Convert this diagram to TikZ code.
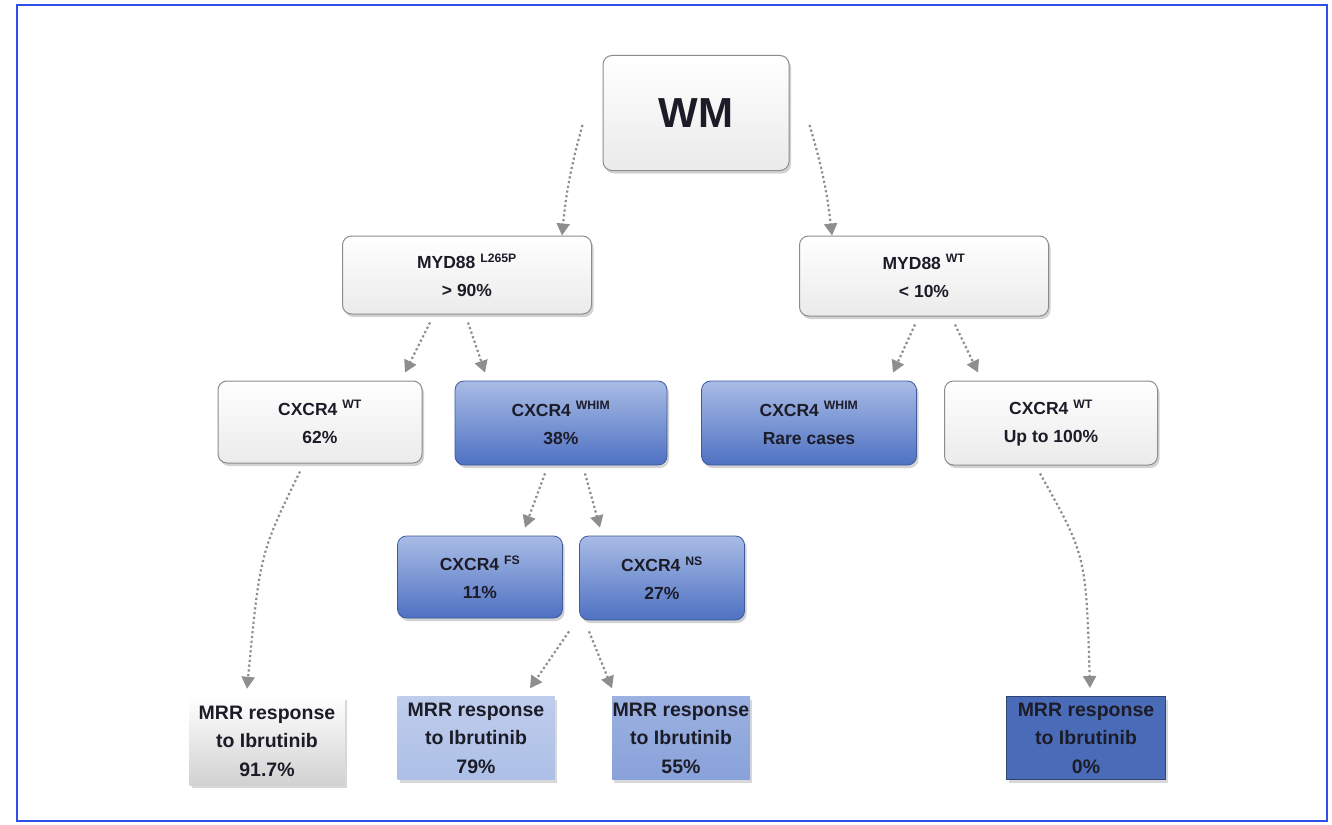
\documentclass[tikz,border=0pt]{standalone}
\usepackage{fontspec}
\setmainfont{Liberation Sans}
\usetikzlibrary{shadows,arrows.meta,calc}
\definecolor{frameblue}{HTML}{2F4FE8}
\definecolor{bluetop}{HTML}{A9BCE6}
\definecolor{bluebot}{HTML}{4E71C2}
\definecolor{txt}{HTML}{1C1C28}
\definecolor{arr}{HTML}{8E8E8E}
\tikzset{
  base/.style={rounded corners=9pt, align=center, text=txt, font=\fontsize{17.5}{28}\selectfont\bfseries,
    drop shadow={shadow xshift=2pt, shadow yshift=-3pt, fill=black!35, opacity=.5}},
  whitebox/.style={base, draw=black!45, line width=1pt, top color=white, bottom color=black!8},
  bluebox/.style={base, draw=bluebot!80!black, line width=0.8pt, top color=bluetop, bottom color=bluebot},
  mrr/.style={align=center, text=txt, font=\fontsize{19.5}{28.5}\selectfont\bfseries, inner sep=0pt,
    drop shadow={shadow xshift=2pt, shadow yshift=-3pt, fill=black!30, opacity=.5}},
  conn/.style={draw=arr, line width=2.2pt, dash pattern=on 2.2pt off 2.6pt, -{Triangle[length=12pt,width=13pt]}, shorten >=0pt}
}
\begin{document}
\begin{tikzpicture}[x=1pt,y=-1pt]
\useasboundingbox (0,0) rectangle (1332,824);
\fill[white] (0,0) rectangle (1332,824);
\draw[frameblue, line width=1.2pt] (17,5) rectangle (1327,821);

% top
\node[whitebox, minimum width=186pt, minimum height=115pt, font=\fontsize{42}{48}\selectfont\bfseries] (wm) at (696,113) {WM};

% level 1
\node[whitebox, minimum width=249pt, minimum height=78pt] (myl) at (467,275) {MYD88 \textsuperscript{L265P}\\ > 90\%};
\node[whitebox, minimum width=249pt, minimum height=80pt] (myr) at (924,276) {MYD88 \textsuperscript{WT}\\ < 10\%};

% level 2
\node[whitebox, minimum width=204pt, minimum height=82pt] (cwt) at (320,422) {CXCR4 \textsuperscript{WT}\\ 62\%};
\node[bluebox, minimum width=212pt, minimum height=84pt] (cwh) at (561,423) {CXCR4 \textsuperscript{WHIM}\\ 38\%};
\node[bluebox, minimum width=215pt, minimum height=84pt] (cwr) at (809,423) {CXCR4 \textsuperscript{WHIM}\\ Rare cases};
\node[whitebox, minimum width=213pt, minimum height=84pt] (cwu) at (1051,423) {CXCR4 \textsuperscript{WT}\\ Up to 100\%};

% level 3
\node[bluebox, minimum width=165pt, minimum height=82pt] (cfs) at (480,577) {CXCR4 \textsuperscript{FS}\\ 11\%};
\node[bluebox, minimum width=165pt, minimum height=84pt] (cns) at (662,578) {CXCR4 \textsuperscript{NS}\\ 27\%};

% bottom
\node[mrr, minimum width=155pt, minimum height=88pt, top color=white, bottom color=black!18] (m1) at (267,741) {MRR response\\ to Ibrutinib\\ 91.7\%};
\node[mrr, minimum width=157pt, minimum height=83pt, top color=bluetop!75, bottom color=bluetop!95] (m2) at (476,738) {MRR response\\ to Ibrutinib\\ 79\%};
\node[mrr, minimum width=138pt, minimum height=83pt, top color=bluetop!85!bluebot, bottom color=bluetop!65!bluebot] (m3) at (681,738) {MRR response\\ to Ibrutinib\\ 55\%};
\node[mrr, minimum width=159pt, minimum height=83pt, fill=bluebot!95!black, draw=bluebot!60!black, line width=1pt] (m4) at (1086,738) {MRR response\\ to Ibrutinib\\ 0\%};

% connectors
\coordinate (wmL) at ($(wm.west)+(-20,12)$);
\coordinate (wmR) at ($(wm.east)+(20,12)$);
\draw[conn] (wmL) to[bend right=5] (myl.north -| 562,0);
\draw[conn] (wmR) to[bend left=5] (myr.north -| 832,0);

\draw[conn] ($(myl.south)+(-37,8)$) -- ($(cwt.north)+(85,-8)$);
\draw[conn] ($(myl.south)+(1,8)$) -- ($(cwh.north)+(-76,-8)$);
\draw[conn] ($(myr.south)+(-9,8)$) -- ($(cwr.north)+(84,-8)$);
\draw[conn] ($(myr.south)+(31,8)$) -- ($(cwu.north)+(-73,-8)$);

\draw[conn] ($(cwt.south)+(-20,8)$) .. controls ($(cwt.south)+(-60,90)$) .. ($(m1.north)+(-20,-8)$);
\draw[conn] ($(cwu.south)+(-11,8)$) .. controls ($(cwu.south)+(35,90)$) .. ($(m4.north)+(4,-8)$);

\draw[conn] ($(cwh.south)+(-16,8)$) -- ($(cfs.north)+(45,-8)$);
\draw[conn] ($(cwh.south)+(24,8)$) -- ($(cns.north)+(-62,-8)$);

\coordinate (mid) at ($(cfs.south east)!0.5!(cns.south west)$);
\draw[conn] ($(mid)+(-2,12)$) -- ($(m2.north)+(54,-8)$);
\draw[conn] ($(mid)+(18,12)$) -- ($(m3.north)+(-69,-8)$);
\end{tikzpicture}
\end{document}
